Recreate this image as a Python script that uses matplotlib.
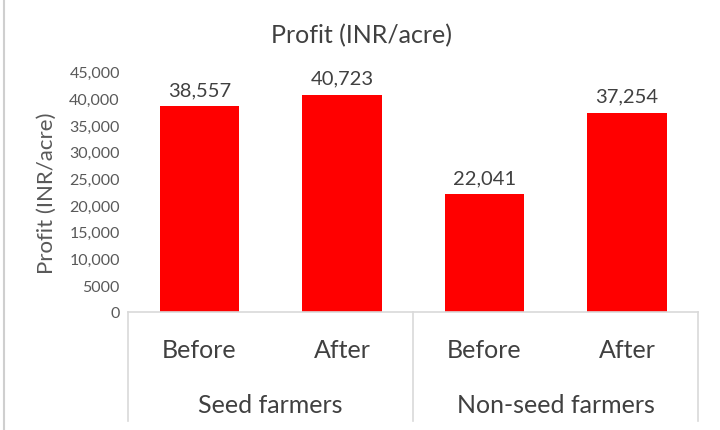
import matplotlib.pyplot as plt
from matplotlib.lines import Line2D

# data
groups = ["Seed farmers", "Non-seed farmers"]
periods = ["Before", "After", "Before", "After"]
profit = [38557, 40723, 22041, 37254]
yticks = [0, 5000, 10000, 15000, 20000, 25000, 30000, 35000, 40000, 45000]
ytick_labels = ["0", "5000", "10,000", "15,000", "20,000", "25,000",
                "30,000", "35,000", "40,000", "45,000"]

plt.rcParams['font.family'] = ['Lato', 'DejaVu Sans']
txt = '#595959'
dark = '#404040'
frame = '#d9d9d9'

fig = plt.figure(figsize=(7.2, 4.31), dpi=100)
ax = fig.add_axes([0.178, 0.274, 0.792, 0.557])

x = list(range(len(profit)))
bars = ax.bar(x, profit, width=0.56, color='#ff0000')

for b, v in zip(bars, profit):
    ax.annotate(f"{v:,}", (b.get_x() + b.get_width() / 2, v),
                xytext=(0, 6), textcoords='offset points',
                ha='center', va='bottom', fontsize=14.5, color=dark)

ax.set_xlim(-0.5, len(profit) - 0.5)
ax.set_ylim(0, 45000)
ax.set_yticks(yticks)
ax.set_yticklabels(ytick_labels)
ax.tick_params(axis='y', length=0, labelsize=11.5, labelcolor=txt, pad=6)
ax.set_xticks([])
for s in ['top', 'right', 'left']:
    ax.spines[s].set_visible(False)
ax.spines['bottom'].set_color(frame)
ax.spines['bottom'].set_linewidth(1.2)

# category labels
for i, p in enumerate(periods):
    ax.text(i, -0.155, p, transform=ax.get_xaxis_transform(),
            ha='center', va='center', fontsize=18, color=dark)
# group labels
for j, g in enumerate(groups):
    ax.text(j * 2 + 0.5, -0.385, g, transform=ax.get_xaxis_transform(),
            ha='center', va='center', fontsize=18, color=dark)
# category axis dividers
for xd in [0, 0.5, 1]:
    ax.add_line(Line2D([xd, xd], [0, -0.455], transform=ax.transAxes,
                       color=frame, lw=1.2, clip_on=False))

ax.set_ylabel("Profit (INR/acre)", fontsize=16, color=txt, labelpad=9)
fig.text(0.502, 0.918, "Profit (INR/acre)", ha='center', va='center',
         fontsize=18, color=dark)

# thin border of the picture
fig.add_artist(Line2D([0.006, 0.006], [0, 1], transform=fig.transFigure,
                      color='#cfcfcf', lw=1.5))

fig.savefig("out.png", dpi=100)
